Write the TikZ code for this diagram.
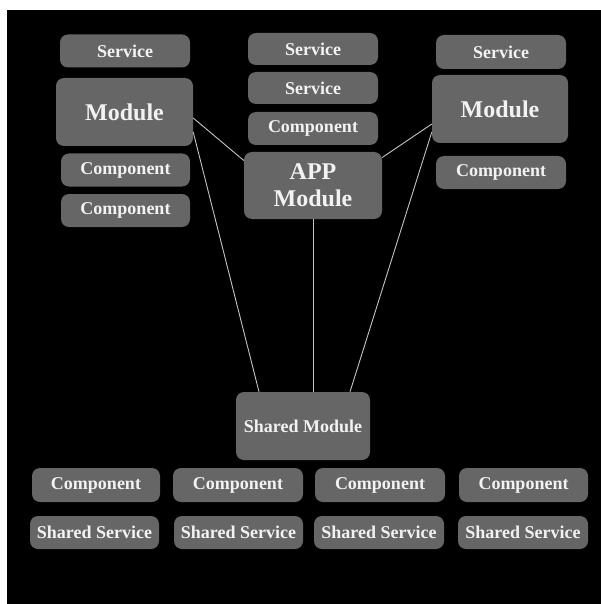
\documentclass[tikz,border=0pt]{standalone}
\usepackage{fontspec}
\setmainfont{Liberation Serif}
\usepackage{xcolor}
\usetikzlibrary{positioning}
\definecolor{boxgray}{HTML}{666666}
\definecolor{linegray}{HTML}{C4C4C4}
\definecolor{textwhite}{HTML}{F2F2F2}

\begin{document}
\begin{tikzpicture}[x=1pt, y=-1pt,
  every node/.style={align=center},
  box/.style={fill=boxgray, rounded corners=8pt, text=textwhite, inner sep=0pt},
  smallbox/.style={box, minimum width=130pt, minimum height=33pt, font=\fontsize{18}{20}\selectfont\bfseries},
  modbox/.style={box, minimum width=137pt, minimum height=68pt, font=\fontsize{24}{27}\selectfont\bfseries},
  link/.style={draw=linegray, line width=0.9pt}]
\fill[white] (0,0) rectangle (601,604);
\fill[black] (7,10) rectangle (601,604);
% left column
\node[smallbox] (lsrv) at (125,51) {Service};
\node[modbox] (lmod) at (124.5,112) {Module};
\node[smallbox, minimum width=129pt] (lcmp1) at (125.5,170) {Component};
\node[smallbox, minimum width=129pt] (lcmp2) at (125.5,210.5) {Component};
% middle column
\node[smallbox, minimum height=32pt] (msrv1) at (313,49) {Service};
\node[smallbox, minimum height=32pt] (msrv2) at (313,88) {Service};
\node[smallbox] (mcmp) at (313,128.5) {Component};
\node[modbox, minimum width=138pt, minimum height=67pt] (app) at (313,185.5) {APP\\Module};
% right column
\node[smallbox, minimum height=34pt] (rsrv) at (501,52) {Service};
\node[modbox, minimum width=136pt] (rmod) at (500,109) {Module};
\node[smallbox] (rcmp) at (501,172.5) {Component};
% shared module
\node[smallbox, minimum width=134pt, minimum height=68pt] (smod) at (303,426) {Shared Module};
% bottom rows
\node[smallbox, minimum width=128pt, minimum height=34pt] (bcmp1) at (96,485) {Component};
\node[smallbox, minimum height=34pt] (bcmp2) at (238,485) {Component};
\node[smallbox, minimum height=34pt] (bcmp3) at (380,485) {Component};
\node[smallbox, minimum width=129pt, minimum height=34pt] (bcmp4) at (523.5,485) {Component};
\node[smallbox, minimum width=129pt] (ssrv1) at (94.5,532.5) {Shared Service};
\node[smallbox, minimum width=129pt] (ssrv2) at (238.5,532.5) {Shared Service};
\node[smallbox] (ssrv3) at (379,532.5) {Shared Service};
\node[smallbox] (ssrv4) at (523,532.5) {Shared Service};
% links
\draw[link] ([yshift=-6pt]lmod.east) -- ([yshift=25pt]app.west);
\draw[link] ([yshift=-20pt]lmod.east) -- ([xshift=-44pt]smod.north);
\draw[link] ([yshift=-15pt]rmod.west) -- ([yshift=28pt]app.east);
\draw[link] ([yshift=-23pt]rmod.west) -- ([xshift=47pt]smod.north);
\draw[link] (app.south) -- (app.south |- smod.north);
\end{tikzpicture}
\end{document}
